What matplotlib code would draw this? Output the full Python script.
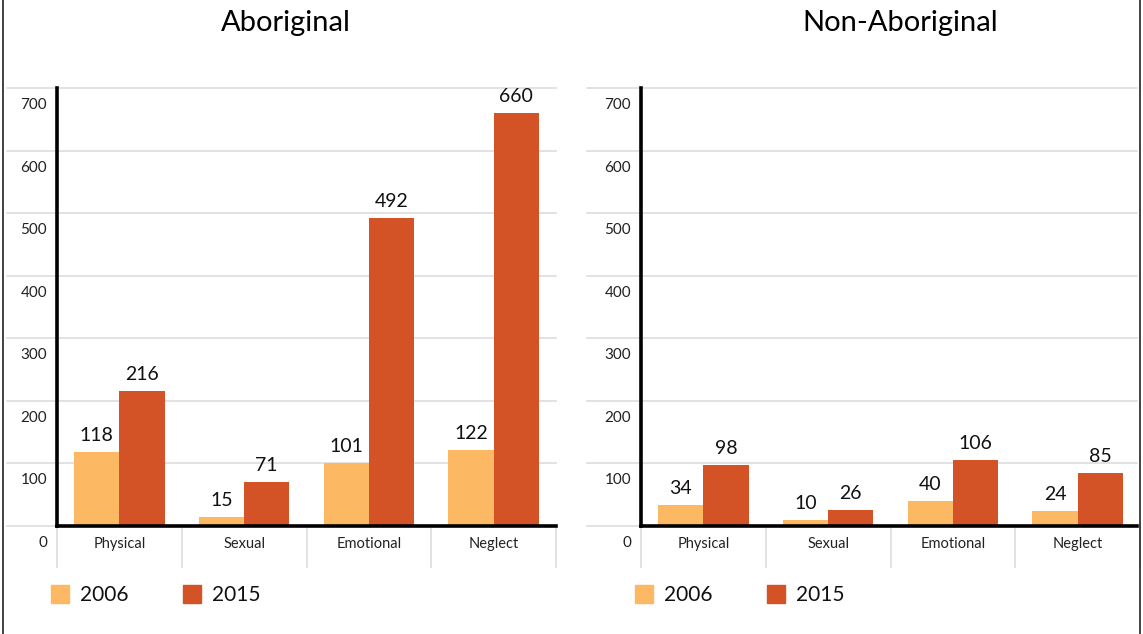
import matplotlib
matplotlib.use("Agg")
import matplotlib.pyplot as plt
import numpy as np
from matplotlib.patches import Rectangle
from matplotlib.lines import Line2D

plt.rcParams["font.family"] = ["Lato", "DejaVu Sans"]

categories = ["Physical", "Sexual", "Emotional", "Neglect"]
years = ["2006", "2015"]
aboriginal_2006 = [118, 15, 101, 122]
aboriginal_2015 = [216, 71, 492, 660]
non_aboriginal_2006 = [34, 10, 40, 24]
non_aboriginal_2015 = [98, 26, 106, 85]
y_ticks = [0, 100, 200, 300, 400, 500, 600, 700]

C_2006 = "#FCB862"
C_2015 = "#D35226"
GRID = "#DDDDDD"

W, H = 1143, 634
fig = plt.figure(figsize=(W / 100, H / 100), dpi=100)


def px_axes(x0, x1, y_top, y_bot):
    return fig.add_axes([x0 / W, (H - y_bot) / H, (x1 - x0) / W, (y_bot - y_top) / H])


def panel(x0, x1, grid_left, grid_right, title, title_x, v2006, v2015):
    ax = px_axes(x0, x1, 88, 526)
    width_px = x1 - x0
    x = np.arange(len(categories))
    bw = 0.362
    ax.bar(x - bw / 2, v2006, bw, color=C_2006, zorder=3)
    ax.bar(x + bw / 2, v2015, bw, color=C_2015, zorder=3)
    ax.set_xlim(-0.5, len(categories) - 0.5)
    ax.set_ylim(0, 700)
    for s in ax.spines.values():
        s.set_visible(False)
    ax.set_xticks([])
    ax.set_yticks([])

    # gridlines extending left past the axis
    gl = -(x0 - grid_left) / width_px
    gr = (grid_right - x0) / width_px
    for t in y_ticks:
        ax.add_line(Line2D([gl, gr], [t, t], transform=ax.get_yaxis_transform(),
                           color=GRID, lw=1.2, clip_on=False, zorder=1))
        ax.annotate(str(t), xy=(0, t), xycoords=("axes fraction", "data"),
                    xytext=(-10, -17), textcoords="offset pixels",
                    ha="right", va="center", fontsize=11, color="#222222")

    # axis lines
    ax.add_line(Line2D([0, 0], [0, 1], transform=ax.transAxes, color="black",
                       lw=2.6, clip_on=False, zorder=5))
    ax.add_line(Line2D([0, gr], [0, 0], transform=ax.transAxes, color="black",
                       lw=2.6, clip_on=False, zorder=5))

    # category separators below baseline
    sep = -41 / 438
    for b in np.arange(len(categories) + 1) - 0.5:
        ax.add_line(Line2D([b, b], [sep, 0], transform=ax.get_xaxis_transform(),
                           color=GRID, lw=1.2, clip_on=False, zorder=1))
    for i, c in enumerate(categories):
        ax.annotate(c, xy=(i, 0), xycoords=("data", "axes fraction"),
                    xytext=(0, -18), textcoords="offset pixels",
                    ha="center", va="center", fontsize=10.5, color="#222222")

    # value labels
    for i in x:
        for off, v in ((-bw / 2, v2006[i]), (bw / 2, v2015[i])):
            ax.annotate(str(v), xy=(i + off, v), xytext=(0, 8),
                        textcoords="offset pixels", ha="center", va="bottom",
                        fontsize=14, color="#111111")

    fig.text(title_x / W, 1 - 23 / H, title, ha="center",
             va="center", fontsize=21, color="black")

    # legend
    for lx, lab, col in ((x0 - 6, years[0], C_2006), (x0 + 126, years[1], C_2015)):
        fig.patches.append(Rectangle((lx / W, (H - 603) / H), 18 / W, 18 / H,
                                     transform=fig.transFigure, color=col))
        fig.text((lx + 29) / W, 1 - 595 / H, lab, ha="left", va="center",
                 fontsize=15, color="#111111")
    return ax


panel(57, 556, 7, 556, "Aboriginal", 286, aboriginal_2006, aboriginal_2015)
panel(641, 1140, 587, 1137, "Non-Aboriginal", 900, non_aboriginal_2006, non_aboriginal_2015)

# outer border (left and right only)
for xb in (3, 1140):
    fig.lines.append(Line2D([xb / W, xb / W], [0, 1], transform=fig.transFigure,
                            color="#222222", lw=1.2))

fig.savefig("out.png", dpi=100)
